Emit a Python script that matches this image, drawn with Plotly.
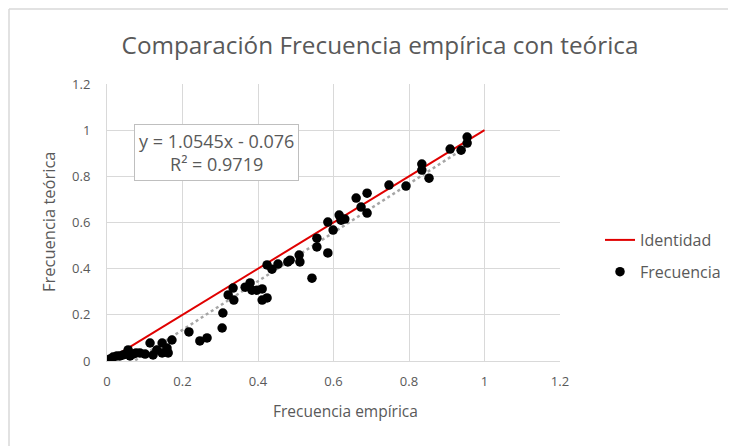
import plotly.graph_objects as go

# Data (empirical vs theoretical frequency)
frec_empirica = [0.008, 0.016, 0.026, 0.034, 0.042, 0.050, 0.056, 0.061, 0.069, 0.077,
                 0.087, 0.101, 0.114, 0.122, 0.132, 0.146, 0.146, 0.159, 0.162, 0.172,
                 0.217, 0.246, 0.265, 0.305, 0.307, 0.321, 0.334, 0.336, 0.366, 0.379,
                 0.384, 0.397, 0.411, 0.411, 0.424, 0.424, 0.437, 0.453, 0.479, 0.485,
                 0.509, 0.511, 0.543, 0.556, 0.556, 0.585, 0.585, 0.599, 0.615, 0.620,
                 0.630, 0.660, 0.673, 0.689, 0.689, 0.747, 0.792, 0.834, 0.834, 0.853,
                 0.909, 0.938, 0.954, 0.954]
frec_teorica = [0.009, 0.017, 0.022, 0.022, 0.026, 0.030, 0.048, 0.022, 0.030, 0.035,
                0.035, 0.030, 0.078, 0.026, 0.048, 0.078, 0.035, 0.056, 0.035, 0.091,
                0.126, 0.087, 0.100, 0.143, 0.208, 0.286, 0.316, 0.264, 0.320, 0.338,
                0.307, 0.307, 0.312, 0.264, 0.273, 0.416, 0.398, 0.420, 0.429, 0.437,
                0.459, 0.429, 0.359, 0.532, 0.494, 0.468, 0.602, 0.567, 0.632, 0.610,
                0.615, 0.706, 0.667, 0.727, 0.641, 0.762, 0.758, 0.853, 0.827, 0.792,
                0.918, 0.913, 0.970, 0.944]

identidad_x = [0, 1]
identidad_y = [0, 1]

pendiente = 1.0545
intercepto = -0.076
r2 = 0.9719

ticks = [0, 0.2, 0.4, 0.6, 0.8, 1, 1.2]
tick_text = ["0", "0.2", "0.4", "0.6", "0.8", "1", "1.2"]

FONT = "Open Sans"
GRAY = "#595959"
GRID = "#d9d9d9"

x_min, x_max = min(frec_empirica), max(frec_empirica)
trend_x = [x_min, x_max]
trend_y = [pendiente * v + intercepto for v in trend_x]

fig = go.Figure()
fig.add_trace(go.Scatter(x=trend_x, y=trend_y, mode="lines",
                         line=dict(color="#a6a6a6", width=2.5, dash="dot"),
                         showlegend=False, hoverinfo="skip"))
fig.add_trace(go.Scatter(x=identidad_x, y=identidad_y, mode="lines", name="Identidad",
                         legendgroup="a",
                         line=dict(color="#e00000", width=2)))
fig.add_trace(go.Scatter(x=frec_empirica, y=frec_teorica, mode="markers", name="Frecuencia",
                         legendgroup="b",
                         marker=dict(color="black", size=9.5, line=dict(width=0))))

axis_common = dict(range=[0, 1.2], tickvals=ticks, ticktext=tick_text,
                   showgrid=True, gridcolor=GRID, gridwidth=1,
                   zeroline=False, showline=True, linecolor=GRID, linewidth=1,
                   ticks="", tickfont=dict(family=FONT, size=13, color=GRAY),
                   fixedrange=True)

# page has an 8px body margin, so the figure is 8px smaller than the window
W, H = 728, 438
fig.update_layout(
    width=W, height=H,
    margin=dict(l=99, r=176, t=76, b=85, autoexpand=False),
    paper_bgcolor="white", plot_bgcolor="white",
    title=dict(text="Comparación Frecuencia empírica con teórica",
               x=372 / W, xanchor="center", y=1 - 37 / H, yanchor="middle",
               font=dict(family=FONT, size=24.3, color=GRAY)),
    xaxis=dict(**axis_common, ticklabelstandoff=8),
    yaxis=dict(**axis_common, ticklabelstandoff=13),
    legend=dict(xref="container", yref="container",
                x=592 / W, y=1 - 248 / H, xanchor="left", yanchor="middle",
                font=dict(family=FONT, size=16, color=GRAY),
                bgcolor="rgba(0,0,0,0)", traceorder="grouped", tracegroupgap=8,
                itemwidth=30),
    showlegend=True,
)

# axis titles
fig.add_annotation(xref="paper", yref="paper", x=(345 - 107) / 453, y=(361 - 411) / 277,
                   xanchor="center", yanchor="middle", showarrow=False,
                   text="Frecuencia empírica",
                   font=dict(family=FONT, size=15.5, color=GRAY))
fig.add_annotation(xref="paper", yref="paper", x=(48 - 107) / 453, y=(361 - 222) / 277,
                   xanchor="center", yanchor="middle", showarrow=False, textangle=-90,
                   text="Frecuencia teórica",
                   font=dict(family=FONT, size=16.5, color=GRAY))

# trendline equation box
fig.add_annotation(
    xref="x", yref="y", x=0.291, y=0.905, xanchor="center", yanchor="middle",
    text=f"y = {pendiente}x - {abs(intercepto)}<br>R² = {r2}",
    showarrow=False, align="center",
    font=dict(family=FONT, size=18, color=GRAY),
    bordercolor="#bfbfbf", borderwidth=1, borderpad=4, bgcolor="white",
)

# outer chart border (left and top edges visible)
bx = (1 - 99) / 453
by = 1 + (76 - 1) / 277
fig.add_shape(type="line", xref="paper", yref="paper",
              x0=bx, x1=bx, y0=by, y1=-0.4,
              line=dict(color=GRID, width=1.5))
fig.add_shape(type="line", xref="paper", yref="paper",
              x0=bx, x1=1.5, y0=by, y1=by,
              line=dict(color=GRID, width=1.5))

fig.write_html("out.html")
